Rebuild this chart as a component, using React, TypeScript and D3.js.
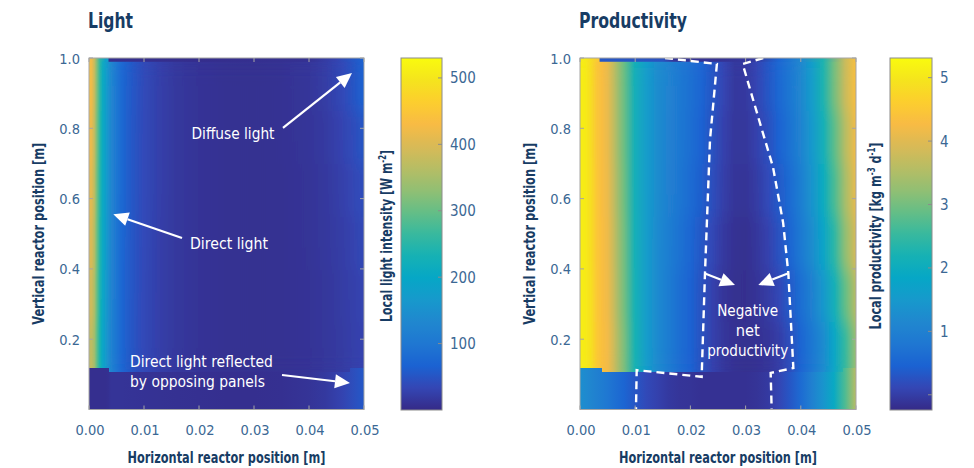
import * as d3 from "d3";

const FONT = "'Liberation Sans Narrow', 'DejaVu Sans Condensed', 'Open Sans', sans-serif";
const NAVY = "#173c64";
const TICK_TEXT = "#3b6894";

// parula colour map (slightly muted in the blues, as in the printed figure)
const parula = ["#352a87", "#3446b4", "#1b62d2", "#1f77d2", "#2087cf", "#1799cc", "#06a7c6", "#16b1b4", "#38b99e", "#65be86", "#92bf73", "#b7bd64", "#d9ba56", "#f8bb44", "#fcce2e", "#f5e41d", "#f9fb0e"];

const xTicks = [0, 0.01, 0.02, 0.03, 0.04, 0.05];
const yTicks = [0.2, 0.4, 0.6, 0.8, 1.0];

// ---- Light panel (W m-2) ----
const lightX = [0, 0.0005, 0.001, 0.0015, 0.002, 0.0025, 0.003, 0.0035, 0.004, 0.005, 0.006, 0.008, 0.01, 0.013, 0.016, 0.02, 0.025, 0.03, 0.035, 0.04, 0.043, 0.046, 0.048, 0.05];
const lightBottom = [6, 6, 6, 6, 6, 6, 6, 7, 12, 12, 12, 11, 10, 9, 8, 7, 6, 6, 7, 12, 18, 30, 42, 55];
const lightRowA = [375, 370, 342, 285, 235, 195, 170, 148, 125, 95, 72, 50, 36, 24, 16, 11, 8, 7, 8, 11, 15, 20, 25, 30];
const lightRowB = [392, 385, 352, 292, 240, 200, 174, 150, 127, 96, 73, 51, 36, 24, 16, 11, 8, 7, 8, 11, 15, 21, 26, 32];
const lightRowC = [405, 396, 360, 297, 245, 204, 177, 152, 128, 97, 74, 51, 37, 24, 16, 11, 8, 7, 8, 12, 16, 23, 29, 36];
const lightRowD = [415, 404, 365, 300, 248, 206, 179, 154, 130, 98, 75, 52, 37, 25, 16, 11, 8, 7, 8, 12, 17, 26, 33, 42];
const lightRowE = [425, 412, 370, 305, 251, 208, 181, 155, 131, 99, 75, 52, 37, 25, 16, 11, 8, 7, 9, 13, 19, 30, 40, 52];
const lightRowF = [438, 420, 375, 310, 254, 210, 183, 157, 132, 100, 76, 53, 38, 25, 16, 11, 8, 7, 9, 14, 22, 36, 50, 68];
const lightTopX = [0, 0.0005, 0.001, 0.002, 0.003, 0.0034, 0.0037, 0.02, 0.04, 0.045, 0.05];
const lightTop = [438, 420, 375, 254, 183, 170, 6, 4, 8, 30, 68];
const lightRowEdges = [0, 0.107, 0.25, 0.4, 0.55, 0.7, 0.85, 0.99, 1.0];
const lightNotches = [[0, 0.0036], [0.0475, 0.05]];
const lightRange = [0, 530];
const lightBarTicks = [100, 200, 300, 400, 500];
const lightBarLabels = ["100", "200", "300", "400", "500"];

// ---- Productivity panel (kg m-3 d-1) ----
const prodX = [0, 0.001, 0.002, 0.003, 0.004, 0.005, 0.006, 0.008, 0.01, 0.012, 0.014, 0.016, 0.018, 0.02, 0.022, 0.024, 0.026, 0.028, 0.03, 0.032, 0.034, 0.036, 0.038, 0.04, 0.042, 0.044, 0.046, 0.048, 0.05];
const prodBottom = [1.3, 1.2, 1.1, 1.0, 0.9, 0.8, 0.7, 0.5, 0.3, 0.15, 0.05, -0.05, -0.1, -0.12, -0.15, -0.15, -0.15, -0.15, -0.15, -0.12, -0.05, 0.1, 0.3, 0.6, 1.0, 1.4, 1.9, 2.7, 3.6];
const prodRowA = [5.1, 5.05, 4.9, 4.55, 4.35, 4.2, 3.85, 3.05, 2.2, 1.6, 1.2, 0.9, 0.65, 0.45, 0.25, 0.05, -0.08, -0.15, -0.17, -0.15, -0.1, 0.0, 0.2, 0.5, 0.8, 1.2, 1.8, 2.5, 3.3];
const prodRowB = [5.1, 5.05, 4.88, 4.52, 4.33, 4.17, 3.8, 3.0, 2.15, 1.6, 1.2, 0.9, 0.65, 0.45, 0.25, 0.05, -0.1, -0.17, -0.18, -0.12, -0.02, 0.12, 0.35, 0.65, 1.0, 1.45, 2.1, 2.85, 3.6];
const prodRowC = [5.1, 5.05, 4.86, 4.5, 4.32, 4.15, 3.78, 2.98, 2.12, 1.6, 1.2, 0.95, 0.72, 0.52, 0.32, 0.12, -0.05, -0.15, -0.17, -0.08, 0.05, 0.25, 0.5, 0.85, 1.25, 1.75, 2.4, 3.2, 3.9];
const prodRowD = [5.1, 5.05, 4.85, 4.5, 4.3, 4.12, 3.75, 2.95, 2.1, 1.6, 1.25, 1.0, 0.78, 0.6, 0.4, 0.2, 0.02, -0.1, -0.12, -0.02, 0.15, 0.35, 0.6, 0.95, 1.4, 1.95, 2.65, 3.4, 4.1];
const prodRowE = [5.1, 5.05, 4.84, 4.48, 4.3, 4.1, 3.72, 2.92, 2.1, 1.6, 1.25, 1.02, 0.82, 0.65, 0.45, 0.25, 0.05, -0.08, -0.08, 0.05, 0.22, 0.45, 0.72, 1.05, 1.5, 2.1, 2.8, 3.55, 4.2];
const prodRowF = [5.1, 5.05, 4.84, 4.48, 4.3, 4.1, 3.72, 2.92, 2.1, 1.6, 1.25, 1.05, 0.85, 0.68, 0.5, 0.3, 0.1, -0.06, -0.05, 0.1, 0.3, 0.55, 0.8, 1.15, 1.6, 2.25, 3.0, 3.75, 4.35];
const prodTopX = [0, 0.001, 0.002, 0.0034, 0.0037, 0.015, 0.017, 0.025, 0.032, 0.036, 0.04, 0.044, 0.048, 0.05];
const prodTop = [5.1, 5.05, 4.84, 4.45, 0.3, 0.25, -0.12, -0.15, -0.05, 0.5, 1.15, 2.25, 3.75, 4.35];
const prodRowEdges = [0, 0.107, 0.25, 0.4, 0.55, 0.7, 0.85, 0.99, 1.0];
const prodNotches = [[0, 0.004], [0.0477, 0.05]];
const prodRange = [-0.24, 5.31];
const prodBarTicks = [0, 1, 2, 3, 4, 5];
const prodBarLabels = ["", "1", "2", "3", "4", "5"];

// annotation geometry (data units, m)
const negLeftBoundary = [[0.0154, 1.0], [0.0248, 0.983], [0.02355, 0.767], [0.02264, 0.387], [0.02204, 0.093], [0.01027, 0.112], [0.01014, 0.0]];
const negRightBoundary = [[0.0332, 1.0], [0.02947, 0.983], [0.0326, 0.815], [0.03496, 0.69], [0.0368, 0.531], [0.03774, 0.388], [0.03865, 0.118], [0.03454, 0.104], [0.03472, 0.0]];

const NOTCH_TOP = 0.117;

function buildRows(edges, xsList, valsList) {
  return valsList.map((vs, i) => ({ y0: edges[i], y1: edges[i + 1], xs: xsList[i], vs }));
}

const lightRows = buildRows(
  lightRowEdges,
  [lightX, lightX, lightX, lightX, lightX, lightX, lightX, lightTopX],
  [lightBottom, lightRowA, lightRowB, lightRowC, lightRowD, lightRowE, lightRowF, lightTop]
);
const prodRows = buildRows(
  prodRowEdges,
  [prodX, prodX, prodX, prodX, prodX, prodX, prodX, prodTopX],
  [prodBottom, prodRowA, prodRowB, prodRowC, prodRowD, prodRowE, prodRowF, prodTop]
);

function makeColor(range) {
  const [lo, hi] = range;
  return d3
    .scaleLinear()
    .domain(parula.map((_, i) => lo + ((hi - lo) * i) / (parula.length - 1)))
    .range(parula)
    .interpolate(d3.interpolateRgb)
    .clamp(true);
}

function Arrow({ from, to, x, y }) {
  const x1 = x(from[0]), y1 = y(from[1]);
  const x2 = x(to[0]), y2 = y(to[1]);
  const a = Math.atan2(y2 - y1, x2 - x1);
  const L = 15, W = 7;
  const bx = x2 - L * Math.cos(a), by = y2 - L * Math.sin(a);
  const nx = -Math.sin(a), ny = Math.cos(a);
  return (
    <g>
      <line x1={x1} y1={y1} x2={bx} y2={by} stroke="#fff" strokeWidth={2.2} />
      <polygon points={`${x2},${y2} ${bx + W * nx},${by + W * ny} ${bx - W * nx},${by - W * ny}`} fill="#fff" />
    </g>
  );
}

function Note({ x, y, w, anchor = "middle", children }) {
  return (
    <text x={x} y={y} textAnchor={anchor} fontFamily={FONT} fontSize={16.5} fill="#fff" textLength={w} lengthAdjust="spacingAndGlyphs">
      {children}
    </text>
  );
}

function Panel({ id, plot, bar, title, titleW, rows, notches, range, barTicks, barLabels, barLabel, barLabelW, children }) {
  const x = d3.scaleLinear().domain([0, 0.05]).range([plot.x0, plot.x1]);
  const y = d3.scaleLinear().domain([0, 1]).range([plot.y1, plot.y0]);
  const color = makeColor(range);
  const cb = d3.scaleLinear().domain(range).range([bar.y1, bar.y0]);
  const barStops = d3.range(0, 1.0001, 1 / 48);
  const tl = 4;
  const upper = rows.slice(1, rows.length - 1);
  const cell = (r, i) => (
    <rect key={i} x={x(0)} width={x(0.05) - x(0)} y={y(r.y1)} height={y(r.y0) - y(r.y1) + 0.6} fill={`url(#${id}-row-${rows.indexOf(r)})`} shapeRendering="crispEdges" />
  );
  return (
    <g>
      <defs>
        {rows.map((r, i) => (
          <linearGradient key={i} id={`${id}-row-${i}`} gradientUnits="userSpaceOnUse" x1={x(0)} x2={x(0.05)} y1={0} y2={0}>
            {r.xs.map((xv, j) => (
              <stop key={j} offset={xv / 0.05} stopColor={color(r.vs[j])} />
            ))}
          </linearGradient>
        ))}
        <linearGradient id={`${id}-bar`} x1={0} x2={0} y1={1} y2={0}>
          {barStops.map((t, j) => (
            <stop key={j} offset={t} stopColor={color(range[0] + t * (range[1] - range[0]))} />
          ))}
        </linearGradient>
        <filter id={`${id}-vblur`} x="0" y="-0.1" width="1" height="1.2">
          <feGaussianBlur stdDeviation="0 9" edgeMode="duplicate" />
        </filter>
        <clipPath id={`${id}-upper`}>
          <rect x={x(0)} width={x(0.05) - x(0)} y={y(upper[upper.length - 1].y1)} height={y(upper[0].y0) - y(upper[upper.length - 1].y1)} />
        </clipPath>
      </defs>

      <text x={plot.x0 - 1} y={28} fontFamily={FONT} fontWeight="bold" fontSize={21.5} fill={NAVY} textLength={titleW} lengthAdjust="spacingAndGlyphs">
        {title}
      </text>

      {rows.map(cell)}
      <g clipPath={`url(#${id}-upper)`}>
        <g filter={`url(#${id}-vblur)`}>{upper.map(cell)}</g>
      </g>
      {notches.map(([a, b], i) => (
        <rect key={i} x={x(a)} width={x(b) - x(a)} y={y(NOTCH_TOP)} height={y(rows[0].y1) - y(NOTCH_TOP) + 0.5} fill={`url(#${id}-row-0)`} shapeRendering="crispEdges" />
      ))}

      {children(x, y)}

      <rect x={plot.x0} y={plot.y0} width={plot.x1 - plot.x0} height={plot.y1 - plot.y0} fill="none" stroke="#a5a5a5" strokeWidth={1} />
      {xTicks.map((t) => (
        <g key={t}>
          <line x1={x(t)} x2={x(t)} y1={plot.y1} y2={plot.y1 - tl} stroke="#a5a5a5" />
          <line x1={x(t)} x2={x(t)} y1={plot.y0} y2={plot.y0 + tl} stroke="#a5a5a5" />
          <text x={x(t) + 1} y={plot.y1 + 25} textAnchor="middle" fontFamily={FONT} fontSize={14.5} fill={TICK_TEXT}>
            {d3.format(".2f")(t)}
          </text>
        </g>
      ))}
      {yTicks.map((t) => (
        <g key={t}>
          <line x1={plot.x0} x2={plot.x0 + tl} y1={y(t)} y2={y(t)} stroke="#a5a5a5" />
          <line x1={plot.x1} x2={plot.x1 - tl} y1={y(t)} y2={y(t)} stroke="#a5a5a5" />
          <text x={plot.x0 - 9} y={y(t) + 5.5} textAnchor="end" fontFamily={FONT} fontSize={14.5} fill={TICK_TEXT}>
            {d3.format(".1f")(t)}
          </text>
        </g>
      ))}
      <text x={(plot.x0 + plot.x1) / 2} y={463} textAnchor="middle" fontFamily={FONT} fontWeight="bold" fontSize={16} fill={NAVY} textLength={198} lengthAdjust="spacingAndGlyphs">
        Horizontal reactor position [m]
      </text>
      <text transform={`translate(${plot.x0 - 45},${(plot.y0 + plot.y1) / 2}) rotate(-90)`} textAnchor="middle" fontFamily={FONT} fontWeight="bold" fontSize={16} fill={NAVY} textLength={182} lengthAdjust="spacingAndGlyphs">
        Vertical reactor position [m]
      </text>

      <rect x={bar.x0} y={bar.y0} width={bar.x1 - bar.x0} height={bar.y1 - bar.y0} fill={`url(#${id}-bar)`} stroke="#8c8c8c" strokeWidth={1} />
      {barTicks.map((t, i) => (
        <g key={t}>
          <line x1={bar.x1} x2={bar.x1 - tl} y1={cb(t)} y2={cb(t)} stroke="#8c8c8c" />
          <text x={bar.x1 + 8} y={cb(t) + 5.5} fontFamily={FONT} fontSize={15} fill={TICK_TEXT}>
            {barLabels[i]}
          </text>
        </g>
      ))}
      <text transform={`translate(${bar.x0 - 9},${(bar.y0 + bar.y1) / 2 + 2}) rotate(-90)`} textAnchor="middle" fontFamily={FONT} fontWeight="bold" fontSize={16} fill={NAVY} textLength={barLabelW} lengthAdjust="spacingAndGlyphs">
        {barLabel}
      </text>
    </g>
  );
}

export default function App() {
  return (
    <svg width={974} height={468} style={{ position: "absolute", left: 0, top: 0, background: "#fff" }}>
      <Panel
        id="light"
        plot={{ x0: 89, x1: 364, y0: 58, y1: 409.5 }}
        bar={{ x0: 401, x1: 442, y0: 58, y1: 410 }}
        title="Light"
        titleW={45}
        rows={lightRows}
        notches={lightNotches}
        range={lightRange}
        barTicks={lightBarTicks}
        barLabels={lightBarLabels}
        barLabelW={172}
        barLabel={
          <>
            Local light intensity [W m<tspan dy={-6} fontSize={10}>-2</tspan>
            <tspan dy={6}>]</tspan>
          </>
        }
      >
        {(x, y) => (
          <g>
            <Note x={x(0.02618)} y={y(0.7696)} w={83}>Diffuse light</Note>
            <Arrow from={[0.03527, 0.801]} to={[0.04782, 0.957]} x={x} y={y} />
            <Note x={x(0.02545)} y={y(0.4566)} w={78}>Direct light</Note>
            <Arrow from={[0.01691, 0.4879]} to={[0.00442, 0.5553]} x={x} y={y} />
            <Note x={x(0.00745)} y={y(0.1209)} w={143} anchor="start">Direct light reflected</Note>
            <Note x={x(0.00745)} y={y(0.064)} w={135} anchor="start">by opposing panels</Note>
            <Arrow from={[0.03509, 0.0981]} to={[0.04745, 0.0754]} x={x} y={y} />
          </g>
        )}
      </Panel>
      <Panel
        id="prod"
        plot={{ x0: 580, x1: 856, y0: 58, y1: 409.5 }}
        bar={{ x0: 890, x1: 932, y0: 58, y1: 410 }}
        title="Productivity"
        titleW={108}
        rows={prodRows}
        notches={prodNotches}
        range={prodRange}
        barTicks={prodBarTicks}
        barLabels={prodBarLabels}
        barLabelW={187}
        barLabel={
          <>
            Local productivity [kg m<tspan dy={-6} fontSize={10}>-3</tspan>
            <tspan dy={6}> d</tspan>
            <tspan dy={-6} fontSize={10}>-1</tspan>
            <tspan dy={6}>]</tspan>
          </>
        }
      >
        {(x, y) => {
          const line = d3.line().x((d) => x(d[0])).y((d) => y(d[1]));
          return (
            <g>
              <path d={line(negLeftBoundary)} fill="none" stroke="#fff" strokeWidth={2.4} strokeDasharray="8 5" />
              <path d={line(negRightBoundary)} fill="none" stroke="#fff" strokeWidth={2.4} strokeDasharray="8 5" />
              <Arrow from={[0.02264, 0.387]} to={[0.02808, 0.354]} x={x} y={y} />
              <Arrow from={[0.03763, 0.387]} to={[0.0323, 0.354]} x={x} y={y} />
              <Note x={x(0.03038)} y={y(0.2674)} w={61}>Negative</Note>
              <Note x={x(0.03038)} y={y(0.2105)} w={24}>net</Note>
              <Note x={x(0.03038)} y={y(0.1508)} w={81}>productivity</Note>
            </g>
          );
        }}
      </Panel>
    </svg>
  );
}
